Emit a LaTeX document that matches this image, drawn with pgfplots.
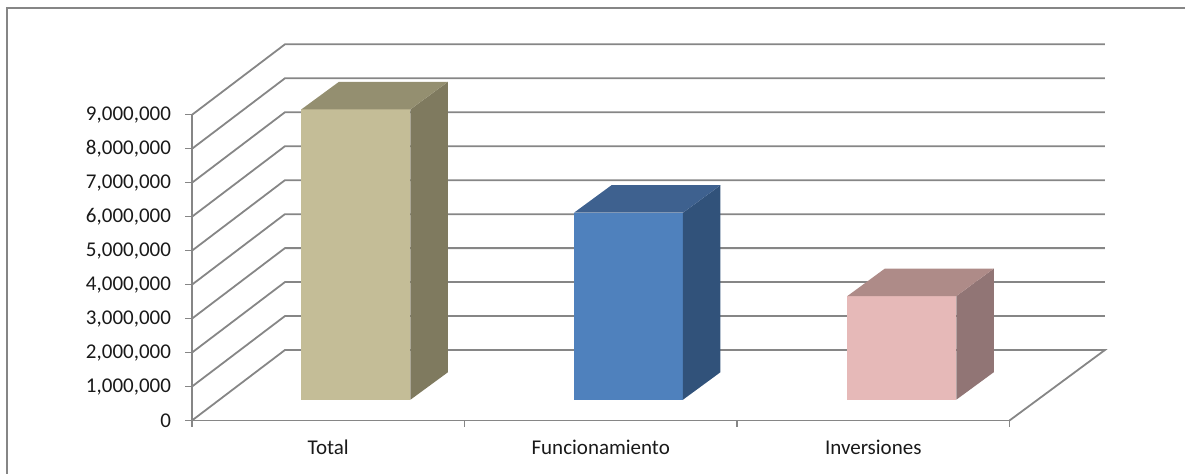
\documentclass[border=0pt]{standalone}
\usepackage{pgfplots}
\pgfplotsset{compat=1.18}
\usepackage{fontspec}
\setmainfont{Carlito}
\definecolor{gridc}{HTML}{868686}
\definecolor{tanF}{HTML}{C4BD97}
\definecolor{tanS}{HTML}{7F7A5F}
\definecolor{tanT}{HTML}{948F70}
\definecolor{bluF}{HTML}{4F81BD}
\definecolor{bluS}{HTML}{31527A}
\definecolor{bluT}{HTML}{3E618F}
\definecolor{pnkF}{HTML}{E6B9B8}
\definecolor{pnkS}{HTML}{917575}
\definecolor{pnkT}{HTML}{AE8B88}
\begin{document}
\begin{tikzpicture}[x=1bp,y=1bp]
\useasboundingbox (0,0) rectangle (1185,-474);
\draw[gridc,line width=1.6bp] (7,-474) -- (7,-8) -- (1185,-8);
\begin{axis}[
  at={(192bp,-420.5bp)}, anchor=origin,
  scale only axis, width=817.5bp, height=305.7bp,
  xmin=0, xmax=3, ymin=0, ymax=9000000,
  clip=false,
  axis x line*=bottom, axis y line*=left,
  axis line style={gridc,line width=1.7bp,-},
  xtick={0.5,1.5,2.5},
  xticklabels={Total,Funcionamiento,Inversiones},
  minor xtick={0,1,2,3},
  ytick={0,1000000,2000000,3000000,4000000,5000000,6000000,7000000,8000000,9000000},
  yticklabels={0,{1,000,000},{2,000,000},{3,000,000},{4,000,000},{5,000,000},{6,000,000},{7,000,000},{8,000,000},{9,000,000}},
  scaled y ticks=false,
  tick align=outside,
  major tick length=7bp,
  minor tick length=6bp,
  x tick style={draw=none},
  minor x tick style={draw=gridc,line width=1.3bp},
  y tick style={draw=gridc,line width=1.3bp},
  tick label style={font=\fontsize{21bp}{23bp}\selectfont,text=black!90},
  yticklabel style={xshift=-10.5bp},
  xticklabel style={yshift=-9bp},
]
% walls
\addplot[gridc,line width=1.8bp,no marks] coordinates {(0,0)(0.341,2075000)(3.35,2075000)(3,0)};
\addplot[gridc,line width=1.8bp,no marks] coordinates {(0,1000000)(0.341,3075000)(3.35,3075000)};
\addplot[gridc,line width=1.8bp,no marks] coordinates {(0,2000000)(0.341,4075000)(3.35,4075000)};
\addplot[gridc,line width=1.8bp,no marks] coordinates {(0,3000000)(0.341,5075000)(3.35,5075000)};
\addplot[gridc,line width=1.8bp,no marks] coordinates {(0,4000000)(0.341,6075000)(3.35,6075000)};
\addplot[gridc,line width=1.8bp,no marks] coordinates {(0,5000000)(0.341,7075000)(3.35,7075000)};
\addplot[gridc,line width=1.8bp,no marks] coordinates {(0,6000000)(0.341,8075000)(3.35,8075000)};
\addplot[gridc,line width=1.8bp,no marks] coordinates {(0,7000000)(0.341,9075000)(3.35,9075000)};
\addplot[gridc,line width=1.8bp,no marks] coordinates {(0,8000000)(0.341,10075000)(3.35,10075000)};
\addplot[gridc,line width=1.8bp,no marks] coordinates {(0,9000000)(0.341,11075000)(3.35,11075000)};
% Total = 8550000
\addplot[fill=tanF,draw=none,xshift=28bp,yshift=20.8bp] coordinates {(0.299,0)(0.699,0)(0.699,8550000)(0.299,8550000)} --cycle;
\addplot[fill=tanS,draw=none,xshift=28bp,yshift=20.8bp] coordinates {(0.699,0)(0.8366,809500)(0.8366,9359500)(0.699,8550000)} --cycle;
\addplot[fill=tanT,draw=none,xshift=28bp,yshift=20.8bp] coordinates {(0.299,8550000)(0.699,8550000)(0.8366,9359500)(0.4366,9359500)} --cycle;
% Funcionamiento = 5505000
\addplot[fill=bluF,draw=none,xshift=28bp,yshift=20.8bp] coordinates {(1.299,0)(1.699,0)(1.699,5505000)(1.299,5505000)} --cycle;
\addplot[fill=bluS,draw=none,xshift=28bp,yshift=20.8bp] coordinates {(1.699,0)(1.8366,809500)(1.8366,6314500)(1.699,5505000)} --cycle;
\addplot[fill=bluT,draw=none,xshift=28bp,yshift=20.8bp] coordinates {(1.299,5505000)(1.699,5505000)(1.8366,6314500)(1.4366,6314500)} --cycle;
% Inversiones = 3050000
\addplot[fill=pnkF,draw=none,xshift=28bp,yshift=20.8bp] coordinates {(2.302,0)(2.702,0)(2.702,3050000)(2.302,3050000)} --cycle;
\addplot[fill=pnkS,draw=none,xshift=28bp,yshift=20.8bp] coordinates {(2.702,0)(2.8396,809500)(2.8396,3859500)(2.702,3050000)} --cycle;
\addplot[fill=pnkT,draw=none,xshift=28bp,yshift=20.8bp] coordinates {(2.302,3050000)(2.702,3050000)(2.8396,3859500)(2.4396,3859500)} --cycle;
\end{axis}
\end{tikzpicture}
\end{document}
